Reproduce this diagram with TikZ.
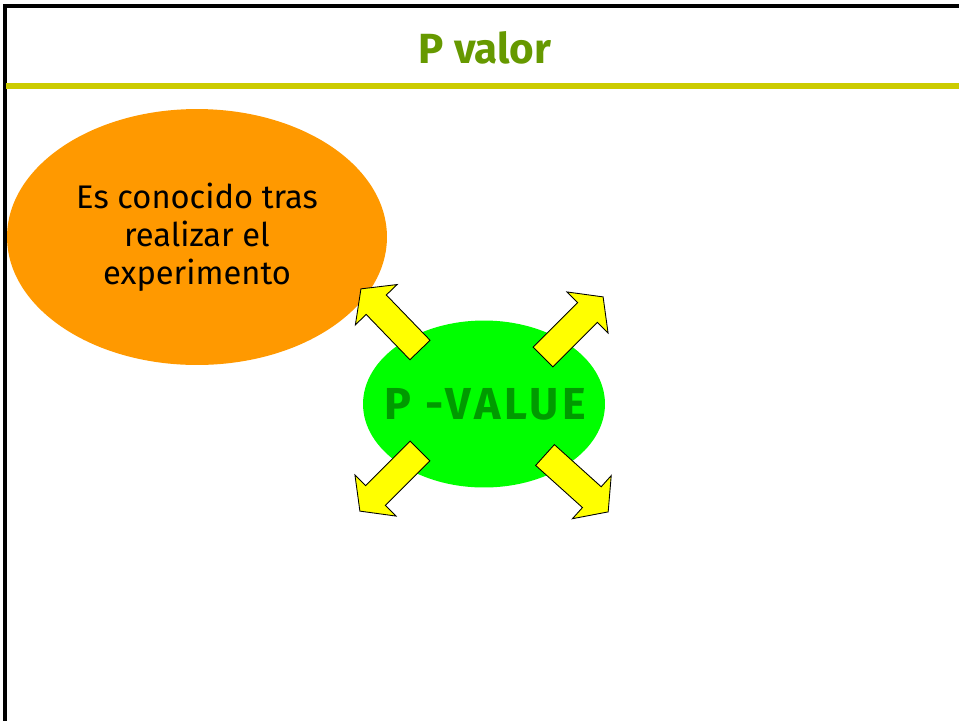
\documentclass[tikz,border=0pt]{standalone}
\usepackage{fontspec}
\setmainfont{Fira Sans}
\usetikzlibrary{shapes.geometric}

\definecolor{titlegreen}{HTML}{669900}
\definecolor{rulecolor}{HTML}{CCCC00}
\definecolor{orangefill}{HTML}{FF9900}
\definecolor{limefill}{HTML}{00FF00}
\definecolor{pvaltext}{HTML}{009A00}
\definecolor{arrowyellow}{HTML}{FFFF00}

\begin{document}
\begin{tikzpicture}[x=0.02cm,y=0.02cm,
  blob/.style={ellipse, inner sep=0pt, align=center},
  blockarrow/.style={draw=black, fill=arrowyellow, line width=0.5pt, line join=miter}]
  \useasboundingbox (0,0) rectangle (959,-721);

  % Frame and title bar
  \draw[line width=1.8pt] (959,-6) -- (5,-6) -- (5,-721);
  \node[text=titlegreen, font=\fontsize{24}{28}\selectfont\bfseries] (title) at (485,-48) {P valor};
  \draw[rulecolor, line width=3.4pt] (6,-86) -- (959,-86);

  % Orange note
  \node[blob, fill=orangefill, minimum width=7.6cm, minimum height=5.12cm,
        font=\fontsize{18.6}{21.5}\selectfont] (known) at (197,-237)
        {Es conocido tras\\realizar el\\experimento};

  % Central ellipse
  \node[blob, fill=limefill, minimum width=4.84cm, minimum height=3.34cm,
        text=pvaltext, font=\fontsize{25.5}{30}\selectfont\bfseries\addfontfeatures{LetterSpace=8}]
        (pvalue) at (484,-404) {\makebox[0pt]{\hspace{0.04cm}P -VALUE}};

  % Four block arrows: tail x / tail y / direction
  \foreach \tx/\ty/\ang in {420/-350/134, 543/-357/45, 420/-451/225, 545/-455/318}
    \draw[blockarrow, shift={(\tx,\ty)}, rotate=\ang]
      (0,-14) -- (63,-14) -- (63,-29) -- (85,0) -- (63,29) -- (63,14) -- (0,14) -- cycle;
\end{tikzpicture}
\end{document}
